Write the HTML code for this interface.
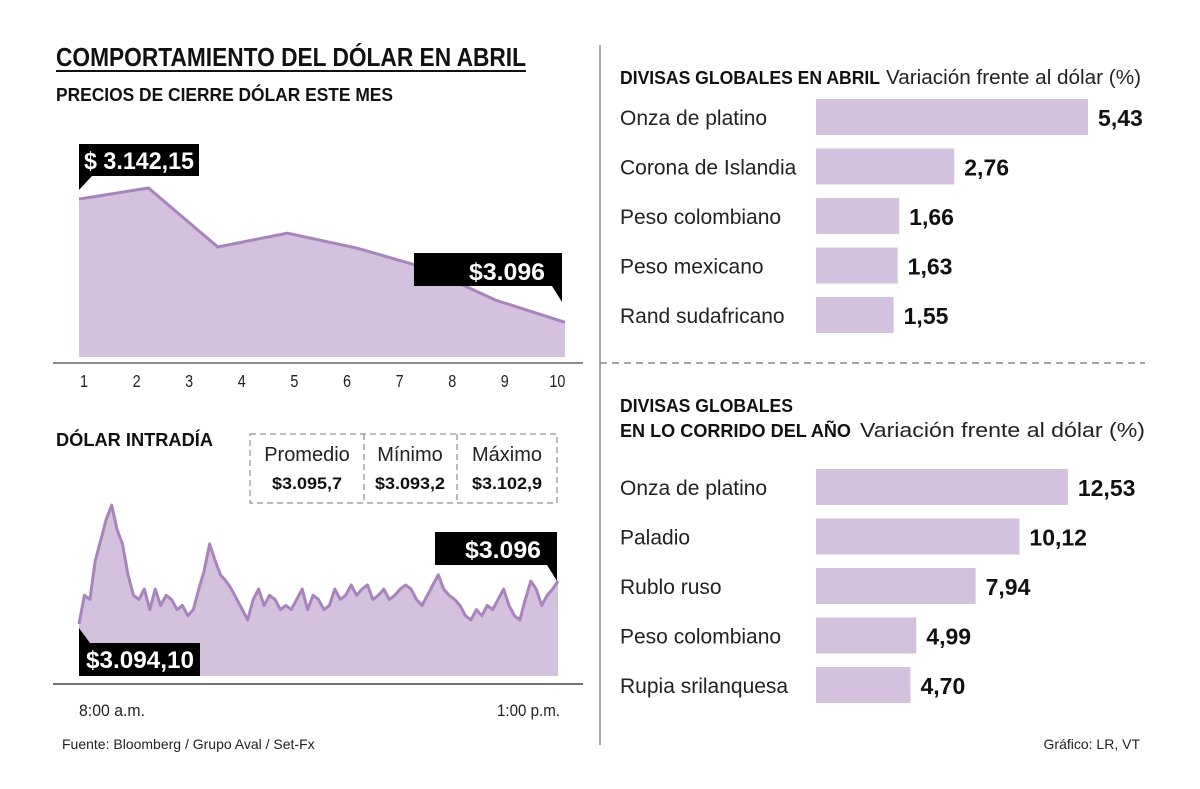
<!DOCTYPE html>
<html><head><meta charset="utf-8"><style>
html,body{margin:0;padding:0;background:#fff;}
svg{display:block;font-family:"Liberation Sans Narrow","Liberation Sans",sans-serif;}
</style></head><body>
<svg id="c" width="1200" height="789" viewBox="0 0 1200 789" xmlns="http://www.w3.org/2000/svg">
<text x="56" y="66" font-size="26" font-weight="bold" fill="#111" textLength="470" lengthAdjust="spacingAndGlyphs">COMPORTAMIENTO DEL DÓLAR EN ABRIL</text>
<line x1="56" y1="71" x2="526" y2="71" stroke="#111" stroke-width="2"/>
<text x="56" y="101" font-size="18" font-weight="bold" fill="#111" textLength="337" lengthAdjust="spacingAndGlyphs">PRECIOS DE CIERRE DÓLAR ESTE MES</text>
<line x1="600" y1="45" x2="600" y2="745" stroke="#888" stroke-width="1.5"/>
<line x1="600" y1="363" x2="1145" y2="363" stroke="#888" stroke-width="1.5" stroke-dasharray="7,5"/>
<g id="g1"></g>
<text x="56" y="446" font-size="18" font-weight="bold" fill="#111" textLength="157" lengthAdjust="spacingAndGlyphs">DÓLAR INTRADÍA</text>
<g>
<rect x="250" y="434" width="307" height="69" fill="none" stroke="#777" stroke-dasharray="6,4"/>
<line x1="364" y1="434" x2="364" y2="503" stroke="#777" stroke-dasharray="6,4"/>
<line x1="457" y1="434" x2="457" y2="503" stroke="#777" stroke-dasharray="6,4"/>
<text x="307" y="461" font-size="20" text-anchor="middle" fill="#222">Promedio</text>
<text x="307" y="489" font-size="17" font-weight="bold" text-anchor="middle" fill="#111" textLength="70" lengthAdjust="spacingAndGlyphs">$3.095,7</text>
<text x="410" y="461" font-size="20" text-anchor="middle" fill="#222">Mínimo</text>
<text x="410" y="489" font-size="17" font-weight="bold" text-anchor="middle" fill="#111" textLength="70" lengthAdjust="spacingAndGlyphs">$3.093,2</text>
<text x="507" y="461" font-size="20" text-anchor="middle" fill="#222">Máximo</text>
<text x="507" y="489" font-size="17" font-weight="bold" text-anchor="middle" fill="#111" textLength="70" lengthAdjust="spacingAndGlyphs">$3.102,9</text>
</g>
<g id="g2"></g>
<text x="79" y="716" font-size="17" fill="#222" textLength="66" lengthAdjust="spacingAndGlyphs">8:00 a.m.</text>
<text x="497" y="716" font-size="17" fill="#222" textLength="63" lengthAdjust="spacingAndGlyphs">1:00 p.m.</text>
<text x="62" y="749" font-size="14" fill="#222">Fuente:  Bloomberg / Grupo Aval / Set-Fx</text>
<text x="1140" y="749" font-size="14" fill="#222" text-anchor="end">Gráfico: LR, VT</text>
<text x="620" y="84" font-size="18" font-weight="bold" fill="#111" textLength="260" lengthAdjust="spacingAndGlyphs">DIVISAS GLOBALES EN ABRIL</text>
<text x="886" y="84" font-size="20" fill="#222" textLength="255" lengthAdjust="spacingAndGlyphs">Variación frente al dólar (%)</text>
<text x="620" y="412" font-size="18" font-weight="bold" fill="#111" textLength="173" lengthAdjust="spacingAndGlyphs">DIVISAS GLOBALES</text>
<text x="620" y="437" font-size="18" font-weight="bold" fill="#111" textLength="231" lengthAdjust="spacingAndGlyphs">EN LO CORRIDO DEL AÑO</text>
<text x="860" y="437" font-size="20" fill="#222" textLength="285" lengthAdjust="spacingAndGlyphs">Variación frente al dólar (%)</text>
<g id="g3"></g>
<g id="g4"></g>
</svg>
<script>
const NS="http://www.w3.org/2000/svg";
const monthDays=["1","2","3","4","5","6","7","8","9","10"];
const monthPrices=[3142.15,3146.3,3124.2,3129.4,3123.8,3116.3,3104.3,3096.0];
const intradayPrices=[3094.1,3095.5,3095.3,3097.2,3098.2,3099.2,3099.9,3098.7,3098.0,3096.5,3095.5,3095.3,3095.8,3094.8,3095.8,3095.0,3095.5,3095.3,3094.8,3095.0,3094.5,3094.8,3095.8,3096.7,3098.0,3097.2,3096.5,3096.2,3095.8,3095.3,3094.8,3094.3,3095.3,3095.8,3095.0,3095.5,3095.3,3094.8,3095.0,3094.8,3095.3,3095.8,3094.8,3095.5,3095.3,3094.8,3095.0,3095.8,3095.3,3095.5,3096.0,3095.5,3095.8,3096.0,3095.3,3095.5,3095.8,3095.3,3095.5,3095.8,3096.0,3095.8,3095.3,3095.0,3095.5,3096.0,3096.5,3095.8,3095.5,3095.3,3095.0,3094.5,3094.3,3094.8,3094.5,3095.0,3094.8,3095.3,3095.8,3095.0,3094.5,3094.3,3095.3,3096.2,3095.8,3095.0,3095.5,3095.8,3096.2];
const aprilNames=["Onza de platino","Corona de Islandia","Peso colombiano","Peso mexicano","Rand sudafricano"];
const aprilValues=[5.43,2.76,1.66,1.63,1.55];
const aprilLabels=["5,43","2,76","1,66","1,63","1,55"];
const ytdNames=["Onza de platino","Paladio","Rublo ruso","Peso colombiano","Rupia srilanquesa"];
const ytdValues=[12.53,10.12,7.94,4.99,4.70];
const ytdLabels=["12,53","10,12","7,94","4,99","4,70"];

function mk(p,tag,a,txt){const e=document.createElementNS(NS,tag);for(const k in a)e.setAttribute(k,a[k]);if(txt!=null)e.textContent=txt;p.appendChild(e);return e;}

const g1=document.getElementById('g1');
const mx=i=>79+i*(565-79)/(monthPrices.length-1);
const my=v=>357-(v-3083)*2.67;
let d="M"+mx(0)+",357";monthPrices.forEach((v,i)=>d+=" L"+mx(i)+","+my(v));d+=" L"+mx(monthPrices.length-1)+",357Z";
let a=mk(g1,'path',{d:d,fill:"#d4c1dd"});


let l=mk(g1,'polyline',{points:monthPrices.map((v,i)=>mx(i)+","+my(v)).join(" "),fill:"none",stroke:"#a784bb","stroke-width":3});


let ax=mk(g1,'line',{x1:53,y1:363,x2:583,y2:363,stroke:"#666","stroke-width":1.5});


monthDays.forEach((t,i)=>{const e=mk(g1,'text',{x:84+i*52.6,y:387,"font-size":18,"text-anchor":"middle",fill:"#222",transform:"translate("+(84+i*52.6)+",0) scale(0.8,1) translate("+(-(84+i*52.6))+",0)"},t);

});
let c1=mk(g1,'path',{d:"M79,144 H199 V176 H92 L79,190Z",fill:"#000"});


let t1=mk(g1,'text',{x:84,y:169,"font-size":24,"font-weight":"bold",fill:"#fff",textLength:110,lengthAdjust:"spacingAndGlyphs"},"$ 3.142,15");


let c2=mk(g1,'path',{d:"M414,253 H562 V302 L552,286 H414Z",fill:"#000"});


let t2=mk(g1,'text',{x:469,y:280,"font-size":24,"font-weight":"bold",fill:"#fff",textLength:76,lengthAdjust:"spacingAndGlyphs"},"$3.096");



const g2=document.getElementById('g2');
const ix=i=>79+i*(558-79)/(intradayPrices.length-1);
const iy=v=>624-(v-3094.1)*20.5;
d="M79,676";intradayPrices.forEach((v,i)=>d+=" L"+ix(i).toFixed(1)+","+iy(v).toFixed(1));d+=" L558,676Z";
a=mk(g2,'path',{d:d,fill:"#d4c1dd"});


l=mk(g2,'polyline',{points:intradayPrices.map((v,i)=>ix(i).toFixed(1)+","+iy(v).toFixed(1)).join(" "),fill:"none",stroke:"#a784bb","stroke-width":3,"stroke-linejoin":"round"});


ax=mk(g2,'line',{x1:53,y1:684,x2:583,y2:684,stroke:"#444","stroke-width":1.5});


c1=mk(g2,'path',{d:"M79,628 L90,643 H200 V676 H79Z",fill:"#000"});


t1=mk(g2,'text',{x:86,y:668,"font-size":24,"font-weight":"bold",fill:"#fff",textLength:108,lengthAdjust:"spacingAndGlyphs"},"$3.094,10");


c2=mk(g2,'path',{d:"M435,532 H557 V581 L547,565 H435Z",fill:"#000"});


t2=mk(g2,'text',{x:465,y:558,"font-size":24,"font-weight":"bold",fill:"#fff",textLength:76,lengthAdjust:"spacingAndGlyphs"},"$3.096");



function bars(gid,names,vals,labs,y0,step,scale,prefix){
  const g=document.getElementById(gid);
  names.forEach((n,i)=>{
    const cy=y0+i*step;
    const t=mk(g,'text',{x:620,y:cy+8,"font-size":21,fill:"#222"},n);
    
    
    const w=vals[i]*scale;
    const r=mk(g,'rect',{x:816,y:cy-18,width:w,height:36,fill:"#d4c1dd"});
    
    
    const v=mk(g,'text',{x:816+w+10,y:cy+9,"font-size":23,"font-weight":"bold",fill:"#111"},labs[i]);
    
    
  });
}
bars('g3',aprilNames,aprilValues,aprilLabels,117,49.5,50.1,'april');
bars('g4',ytdNames,ytdValues,ytdLabels,487,49.5,20.1,'ytd');
</script>
</body></html>
